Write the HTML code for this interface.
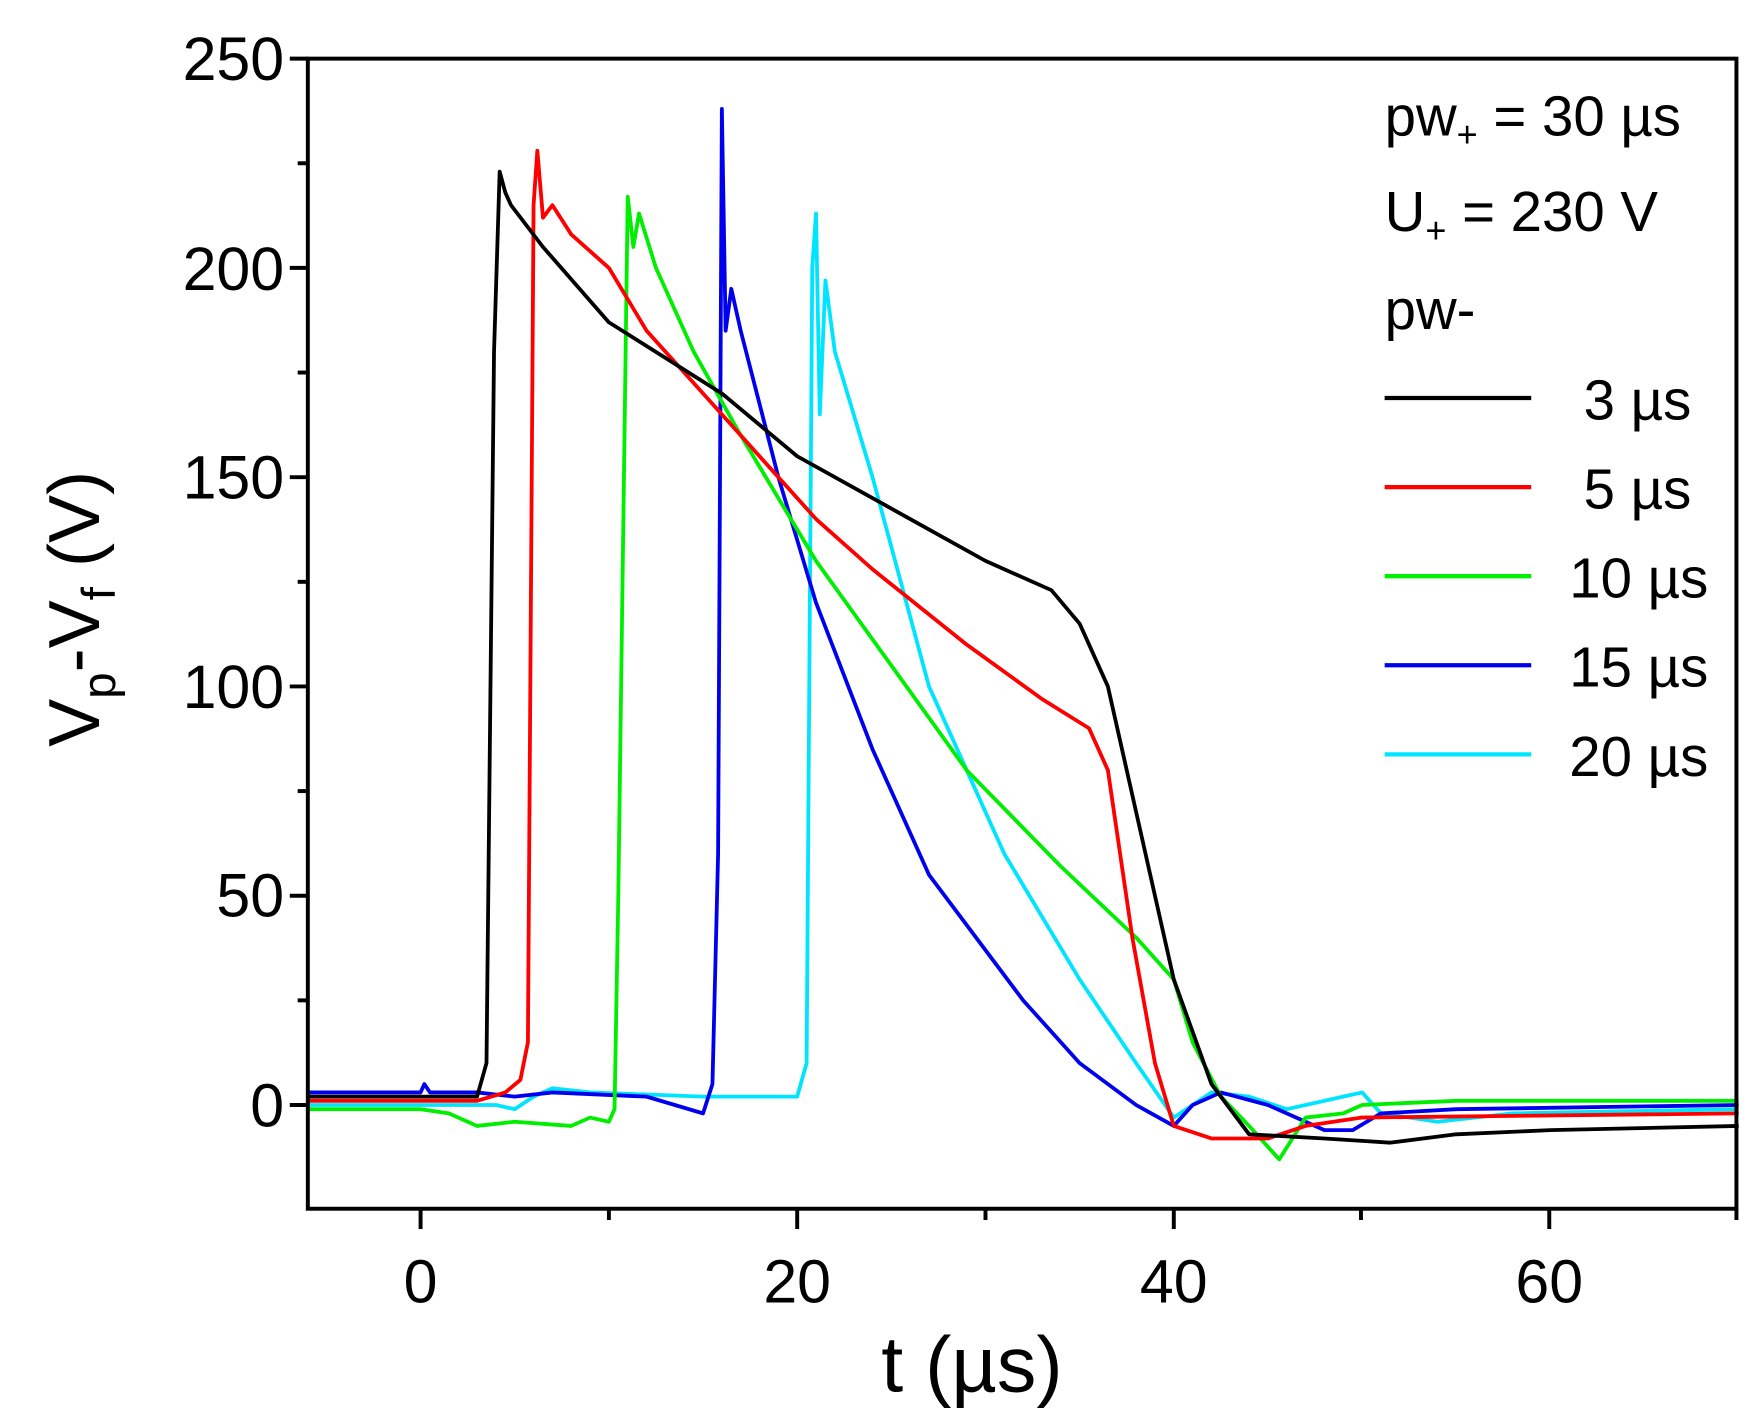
<!DOCTYPE html>
<html><head><meta charset="utf-8"><style>
html,body{margin:0;padding:0;background:#fff;}
svg{display:block;font-family:"Liberation Sans",Arial,sans-serif;}
</style></head><body>
<svg width="1759" height="1425" viewBox="0 0 1560 1263.8" xmlns="http://www.w3.org/2000/svg">
<rect x="0" y="0" width="1560" height="1264" fill="#fff"/>
<g transform="translate(373,980) scale(16.7,-3.712)" fill="none" stroke-linejoin="round">
<polyline vector-effect="non-scaling-stroke" stroke-width="3.8" stroke="#00e5ff" points="-6,0 4,0 5,-1 6,2 7,4 9,3 12,2.5 15,2 20,2 20.5,10 20.8,200 21,213 21.2,165 21.5,197 22,180 24,150 27,100 31,60 35,30 38,10 40,-3 42,3 44,2 46,-1 49,2 50,3 51,-2 54,-4 58,-2 70,-1"/>
<polyline vector-effect="non-scaling-stroke" stroke-width="3.8" stroke="#0000ee" points="-6,3 0,3 0.2,5 0.5,3 3,3 5,2 7,3 12,2 15,-2 15.5,5 15.8,60 16,238 16.2,185 16.5,195 17,185 19,150 21,120 24,85 27,55 32,25 35,10 38,0 40,-5 41,0 42.5,3 45,0 48,-6 49.5,-6 51,-2 55,-1 70,0"/>
<polyline vector-effect="non-scaling-stroke" stroke-width="3.8" stroke="#00ee00" points="-6,-1 0,-1 1.5,-2 3,-5 5,-4 8,-5 9,-3 10,-4 10.3,-1 10.5,50 11,217 11.3,205 11.6,213 12.5,200 14.5,180 17,160 21,130 25,105 29,80 34,57 38,40 40,30 41,15 42.5,2 44,-5 45.6,-13 47,-3 49,-2 50,0 55,1 70,1"/>
<polyline vector-effect="non-scaling-stroke" stroke-width="3.8" stroke="#ff0000" points="-6,1 3,1 4.5,3 5.3,6 5.7,15 6,215 6.2,228 6.5,212 7,215 8,208 10,200 12,185 16,165 19,150 21,140 24,128 29,110 33,97 35.5,90 36.5,80 37.8,40 39,10 40,-5 42,-8 45,-8 47,-5 50,-3 70,-2"/>
<polyline vector-effect="non-scaling-stroke" stroke-width="3.8" stroke="#000000" points="-6,2 3,2 3.5,10 3.9,180 4.2,223 4.5,218 4.8,215 6.5,205 10,187 16,170 20,155 26,140 30,130 33.5,123 35,115 36.5,100 38.5,60 40,30 42,5 44,-7 48,-8 51.5,-9 55,-7 60,-6 70,-5"/>
</g>
<rect x="273" y="52" width="1267" height="1020" fill="none" stroke="#000" stroke-width="3.5"/>
<g stroke="#000" stroke-width="3.5">
<line x1="373" y1="1072" x2="373" y2="1090"/><line x1="707" y1="1072" x2="707" y2="1090"/><line x1="1041" y1="1072" x2="1041" y2="1090"/><line x1="1374" y1="1072" x2="1374" y2="1090"/>
<line x1="540" y1="1072" x2="540" y2="1082"/><line x1="874" y1="1072" x2="874" y2="1082"/><line x1="1207" y1="1072" x2="1207" y2="1082"/><line x1="1540" y1="1072" x2="1540" y2="1082"/>
<line x1="273" y1="980" x2="257" y2="980"/><line x1="273" y1="794.4" x2="257" y2="794.4"/><line x1="273" y1="608.8" x2="257" y2="608.8"/><line x1="273" y1="423.2" x2="257" y2="423.2"/><line x1="273" y1="237.6" x2="257" y2="237.6"/><line x1="273" y1="52" x2="257" y2="52"/>
<line x1="273" y1="887.2" x2="264" y2="887.2"/><line x1="273" y1="701.6" x2="264" y2="701.6"/><line x1="273" y1="516" x2="264" y2="516"/><line x1="273" y1="330.4" x2="264" y2="330.4"/><line x1="273" y1="144.8" x2="264" y2="144.8"/>
</g>
<g font-size="54" fill="#000" text-anchor="end">
<text x="252" y="71">250</text><text x="252" y="257">200</text><text x="252" y="442">150</text>
<text x="252" y="628">100</text><text x="252" y="813">50</text><text x="252" y="999">0</text>
</g>
<g font-size="54" fill="#000" text-anchor="middle">
<text x="373" y="1155">0</text><text x="707" y="1155">20</text><text x="1041" y="1155">40</text><text x="1374" y="1155">60</text>
</g>
<text x="862" y="1234" font-size="70" text-anchor="middle">t (µs)</text>
<text transform="translate(88,540) rotate(-90)" font-size="64" text-anchor="middle">V<tspan font-size="42" dy="14">p</tspan><tspan dy="-14">-V</tspan><tspan font-size="42" dy="14">f</tspan><tspan dy="-14"> (V)</tspan></text>
<g font-size="50" fill="#000">
<text x="1228" y="120">pw<tspan font-size="32" dy="10">+</tspan><tspan dy="-10"> = 30 µs</tspan></text>
<text x="1228" y="205">U<tspan font-size="32" dy="10">+</tspan><tspan dy="-10"> = 230 V</tspan></text>
<text x="1228" y="292">pw-</text>
<g text-anchor="end"><text x="1500" y="372">3 µs</text><text x="1500" y="451">5 µs</text><text x="1515" y="530">10 µs</text><text x="1515" y="609">15 µs</text><text x="1515" y="688">20 µs</text></g>
</g>
<g stroke-width="3.8">
<line x1="1228" y1="353" x2="1358" y2="353" stroke="#000"/>
<line x1="1228" y1="432" x2="1358" y2="432" stroke="#ff0000"/>
<line x1="1228" y1="511" x2="1358" y2="511" stroke="#00ee00"/>
<line x1="1228" y1="590" x2="1358" y2="590" stroke="#0000ee"/>
<line x1="1228" y1="669" x2="1358" y2="669" stroke="#00e5ff"/>
</g>
</svg>
</body></html>
